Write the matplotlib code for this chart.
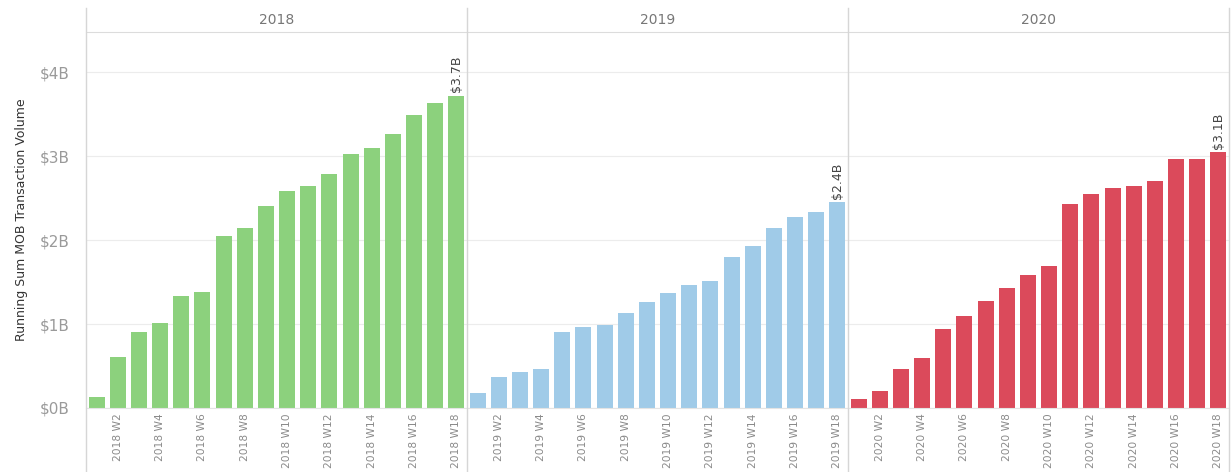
import matplotlib
matplotlib.use("Agg")
import matplotlib.pyplot as plt
from matplotlib.lines import Line2D
import numpy as np

# data (running sum, $B)
years = ["2018", "2019", "2020"]
weeks = [f"W{i}" for i in range(1, 19)]
vol_2018 = [0.13, 0.61, 0.90, 1.01, 1.33, 1.38, 2.05, 2.14, 2.41, 2.59,
            2.65, 2.79, 3.03, 3.10, 3.26, 3.49, 3.63, 3.72]
vol_2019 = [0.18, 0.37, 0.43, 0.47, 0.90, 0.96, 0.99, 1.13, 1.26, 1.37,
            1.46, 1.51, 1.80, 1.93, 2.15, 2.27, 2.33, 2.45]
vol_2020 = [0.11, 0.20, 0.47, 0.60, 0.94, 1.10, 1.28, 1.43, 1.58, 1.69,
            2.43, 2.55, 2.62, 2.64, 2.71, 2.97, 2.97, 3.05]
end_labels = ["$3.7B", "$2.4B", "$3.1B"]
colors = ["#8CD17D", "#A0CBE8", "#DB4A5B"]

W, H = 1231, 472
fig = plt.figure(figsize=(W / 100, H / 100), dpi=100)

left_px, panel_px = 86, 381
top_px, base_px = 32, 408
ymax = 4.48

series = [vol_2018, vol_2019, vol_2020]
for i, (year, vals) in enumerate(zip(years, series)):
    x0 = (left_px + i * panel_px) / W
    ax = fig.add_axes([x0, 1 - base_px / H, panel_px / W, (base_px - top_px) / H])
    x = np.arange(len(vals))
    ax.bar(x, vals, width=0.76, color=colors[i], zorder=2)
    ax.set_xlim(-0.5, len(vals) - 0.5)
    ax.set_ylim(0, ymax)
    ax.set_yticks([0, 1, 2, 3, 4])
    ax.grid(axis="y", color="#ececec", linewidth=0.8, zorder=0)
    ax.set_xticks(x[1::2])
    ax.set_xticklabels([f"{year} {w}" for w in weeks[1::2]], rotation=90,
                       fontsize=7.7, color="#8a8a8a")
    ax.tick_params(axis="both", length=0)
    ax.tick_params(axis="x", pad=4)
    for s in ["left", "right"]:
        ax.spines[s].set_visible(False)
    ax.spines["top"].set_color("#dcdcdc")
    ax.spines["bottom"].set_color("#e4e4e4")
    if i == 0:
        ax.set_yticklabels([f"${v}B" for v in range(5)], fontsize=11,
                           color="#9a9a9a")
        ax.tick_params(axis="y", pad=12)
        ax.set_ylabel("Running Sum MOB Transaction Volume", fontsize=9,
                      color="#333333", labelpad=8)
    else:
        ax.set_yticklabels([])
    ax.text(x[-1], vals[-1] + 0.04, end_labels[i], rotation=90, ha="center",
            va="bottom", fontsize=9, color="#444444")
    fig.text(x0 + panel_px / W / 2, 1 - 20 / H, year, ha="center",
             va="center", fontsize=10, color="#777777")

# panel separators spanning header and tick label area
for px in [left_px, left_px + panel_px, left_px + 2 * panel_px, W - 2]:
    fig.add_artist(Line2D([px / W, px / W], [0, 1 - 8 / H],
                          color="#d6d6d6", linewidth=1))

fig.savefig("out.png", dpi=100)
